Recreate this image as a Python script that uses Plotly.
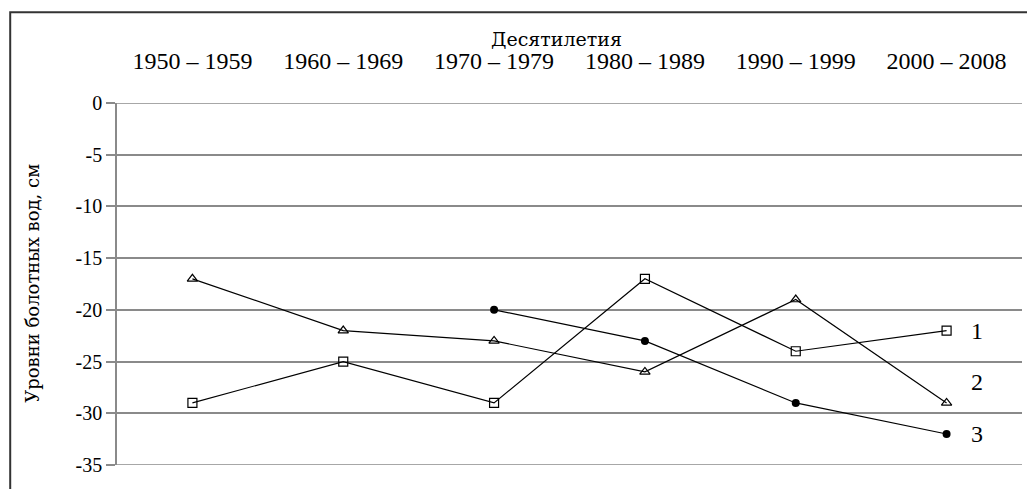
import plotly.graph_objects as go

decades = ["1950 – 1959", "1960 – 1969", "1970 – 1979", "1980 – 1989", "1990 – 1999", "2000 – 2008"]
series1 = [-29, -25, -29, -17, -24, -22]
series2 = [-17, -22, -23, -26, -19, -29]
series3 = [None, None, -20, -23, -29, -32]
end_labels = ["1", "2", "3"]
end_label_y = [-22, -27, -32]
y_ticks = [0, -5, -10, -15, -20, -25, -30, -35]

FONT = "Liberation Serif, Times New Roman, serif"
TITLE_FONT = "DejaVu Serif, Liberation Serif, serif"
GRID = "#8a8a8a"

fig = go.Figure()
line = dict(color="black", width=1.2)
fig.add_trace(go.Scatter(x=decades, y=series1, mode="lines+markers", line=line,
                         marker=dict(symbol="square-open", size=9, color="black", line=dict(width=1.2))))
fig.add_trace(go.Scatter(x=decades, y=series2, mode="lines+markers", line=line,
                         marker=dict(symbol="triangle-up-open", size=9, color="black", line=dict(width=1.2))))
fig.add_trace(go.Scatter(x=decades, y=series3, mode="lines+markers", line=line,
                         marker=dict(symbol="circle", size=8, color="black")))

for txt, yv in zip(end_labels, end_label_y):
    fig.add_annotation(x=0.959, xref="paper", y=yv, yref="y", text=txt, showarrow=False,
                       font=dict(family=FONT, size=24, color="black"))

# axis titles
fig.add_annotation(x=0.486, xref="paper", y=1.176, yref="paper", text="Десятилетия",
                   xanchor="center", yanchor="middle",
                   showarrow=False, font=dict(family=TITLE_FONT, size=19, color="black"))
fig.add_annotation(x=-0.093, xref="paper", y=0.503, yref="paper", text="Уровни болотных вод, см",
                   xanchor="center", yanchor="middle", textangle=-90,
                   showarrow=False, font=dict(family=TITLE_FONT, size=18, color="black"))

# horizontal rules at the ends of the value range
for yv in (0, -35):
    fig.add_shape(type="line", xref="paper", yref="y", x0=0, x1=1, y0=yv, y1=yv,
                  line=dict(color=GRID, width=1.5), layer="below")

# outer frame around the whole chart
fig.add_shape(type="rect", xref="paper", yref="paper", x0=-0.118, x1=1.05, y0=-0.2, y1=1.251,
              line=dict(color="#333333", width=2), fillcolor="rgba(0,0,0,0)", layer="below")

fig.update_layout(
    width=1027, height=489,
    margin=dict(l=117, r=5, t=103, b=24),
    paper_bgcolor="white", plot_bgcolor="white",
    showlegend=False,
    font=dict(family=FONT, color="black"),
    xaxis=dict(type="category", side="top", showgrid=False, showline=False, ticks="",
               tickfont=dict(family=FONT, size=24), range=[-0.5, 5.5], ticklabelstandoff=28),
    yaxis=dict(range=[-35, 0], tickvals=y_ticks, ticktext=[str(v) for v in y_ticks],
               showgrid=True, gridcolor=GRID, gridwidth=1.5, zeroline=False,
               showline=True, linecolor=GRID, linewidth=1.5, ticks="outside", ticklen=9,
               tickcolor=GRID, tickwidth=1.5, tickfont=dict(family=FONT, size=20)),
)

fig.write_html("out.html")
